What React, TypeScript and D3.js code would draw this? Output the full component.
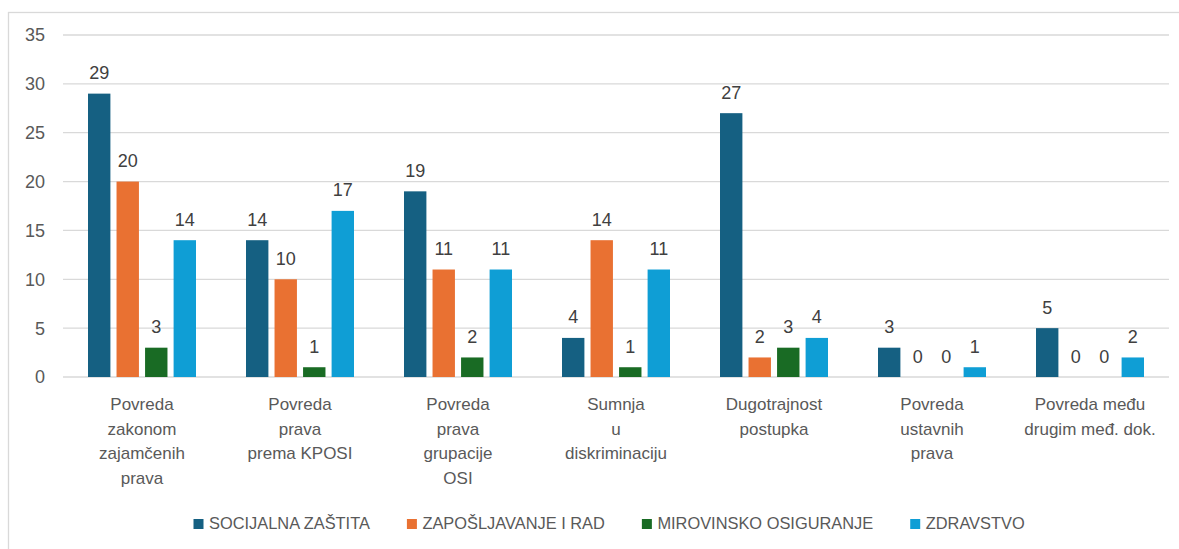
import React, { useRef, useEffect } from 'react';
import * as d3 from 'd3';

const categories = [
  ['Povreda', 'zakonom', 'zajamčenih', 'prava'],
  ['Povreda', 'prava', 'prema KPOSI'],
  ['Povreda', 'prava', 'grupacije', 'OSI'],
  ['Sumnja', 'u', 'diskriminaciju'],
  ['Dugotrajnost', 'postupka'],
  ['Povreda', 'ustavnih', 'prava'],
  ['Povreda među', 'drugim međ. dok.'],
];

const seriesNames = ['SOCIJALNA ZAŠTITA', 'ZAPOŠLJAVANJE I RAD', 'MIROVINSKO OSIGURANJE', 'ZDRAVSTVO'];
const seriesColors = ['#156082', '#E97132', '#196B24', '#0F9ED5'];

const socijalna = [29, 14, 19, 4, 27, 3, 5];
const zaposljavanje = [20, 10, 11, 14, 2, 0, 0];
const mirovinsko = [3, 1, 2, 1, 3, 0, 0];
const zdravstvo = [14, 17, 11, 11, 4, 1, 2];

const yTicks = [0, 5, 10, 15, 20, 25, 30, 35];

const W = 1179;
const H = 549;
const FONT = '"Liberation Sans", Arial, sans-serif';

const App = () => {
  const svgRef = useRef<SVGSVGElement>(null);

  useEffect(() => {
    if (!svgRef.current) return;
    const svg = d3.select(svgRef.current);
    svg.selectAll('*').remove();

    const values = [socijalna, zaposljavanje, mirovinsko, zdravstvo];
    const catIdx = categories.map((_, i) => i);

    const plot = { left: 63, right: 1169, top: 35, bottom: 377 };

    const y = d3.scaleLinear().domain([0, 35]).range([plot.bottom, plot.top]);
    const x0 = d3.scaleBand<number>().domain(catIdx).range([plot.left, plot.right]).padding(0);
    const inner = 25;
    const x1 = d3.scaleBand<number>()
      .domain(d3.range(seriesNames.length))
      .range([inner, x0.bandwidth() - inner])
      .paddingInner(0.215)
      .paddingOuter(0);

    // chart border
    svg.append('rect')
      .attr('x', 8.5).attr('y', 12.5)
      .attr('width', W + 20).attr('height', H + 20)
      .attr('fill', 'none')
      .attr('stroke', '#d9d9d9')
      .attr('stroke-width', 1.3);

    // gridlines
    svg.append('g')
      .selectAll('line')
      .data(yTicks)
      .enter()
      .append('line')
      .attr('x1', plot.left).attr('x2', plot.right)
      .attr('y1', d => y(d)).attr('y2', d => y(d))
      .attr('stroke', '#d9d9d9')
      .attr('stroke-width', 1.3);

    // y labels
    svg.append('g')
      .selectAll('text')
      .data(yTicks)
      .enter()
      .append('text')
      .attr('x', 45)
      .attr('y', d => y(d))
      .attr('dy', '0.36em')
      .attr('text-anchor', 'end')
      .attr('font-family', FONT)
      .attr('font-size', 18)
      .attr('fill', '#595959')
      .text(d => d);

    // bars
    const groups = svg.append('g')
      .selectAll('g')
      .data(catIdx)
      .enter()
      .append('g')
      .attr('transform', d => `translate(${x0(d)},0)`);

    groups.selectAll('rect')
      .data(ci => values.map((vals, si) => ({ si, v: vals[ci] })))
      .enter()
      .append('rect')
      .attr('x', d => x1(d.si)!)
      .attr('y', d => y(d.v))
      .attr('width', x1.bandwidth())
      .attr('height', d => y(0) - y(d.v))
      .attr('fill', d => seriesColors[d.si]);

    groups.selectAll('text')
      .data(ci => values.map((vals, si) => ({ si, v: vals[ci] })))
      .enter()
      .append('text')
      .attr('x', d => x1(d.si)! + x1.bandwidth() / 2)
      .attr('y', d => y(d.v) - 14.5)
      .attr('text-anchor', 'middle')
      .attr('font-family', FONT)
      .attr('font-size', 18)
      .attr('fill', '#404040')
      .text(d => d.v);

    // category labels
    const catLabels = svg.append('g')
      .selectAll('text')
      .data(catIdx)
      .enter()
      .append('text')
      .attr('x', d => x0(d)! + x0.bandwidth() / 2)
      .attr('y', 410)
      .attr('text-anchor', 'middle')
      .attr('font-family', FONT)
      .attr('font-size', 17)
      .attr('fill', '#595959');

    catLabels.selectAll('tspan')
      .data(d => categories[d])
      .enter()
      .append('tspan')
      .attr('x', function () {
        return (this.parentNode as SVGTextElement).getAttribute('x');
      })
      .attr('dy', (_, i) => (i === 0 ? 0 : 24.5))
      .text(d => d);

    // legend
    const legend = svg.append('g');
    let lx = 193.5;
    seriesNames.forEach((name, i) => {
      legend.append('rect')
        .attr('x', lx).attr('y', 519)
        .attr('width', 10).attr('height', 10)
        .attr('fill', seriesColors[i]);
      const t = legend.append('text')
        .attr('x', lx + 15.5)
        .attr('y', 529)
        .attr('font-family', FONT)
        .attr('font-size', 16.4)
        .attr('fill', '#595959')
        .text(name);
      const tw = (t.node() as SVGTextElement).getComputedTextLength();
      lx = lx + 15.5 + tw + 37;
    });
  }, []);

  return (
    <svg
      ref={svgRef}
      width={W}
      height={H}
      style={{ position: 'absolute', left: 0, top: 0, background: '#fff' }}
    />
  );
};

export default App;
